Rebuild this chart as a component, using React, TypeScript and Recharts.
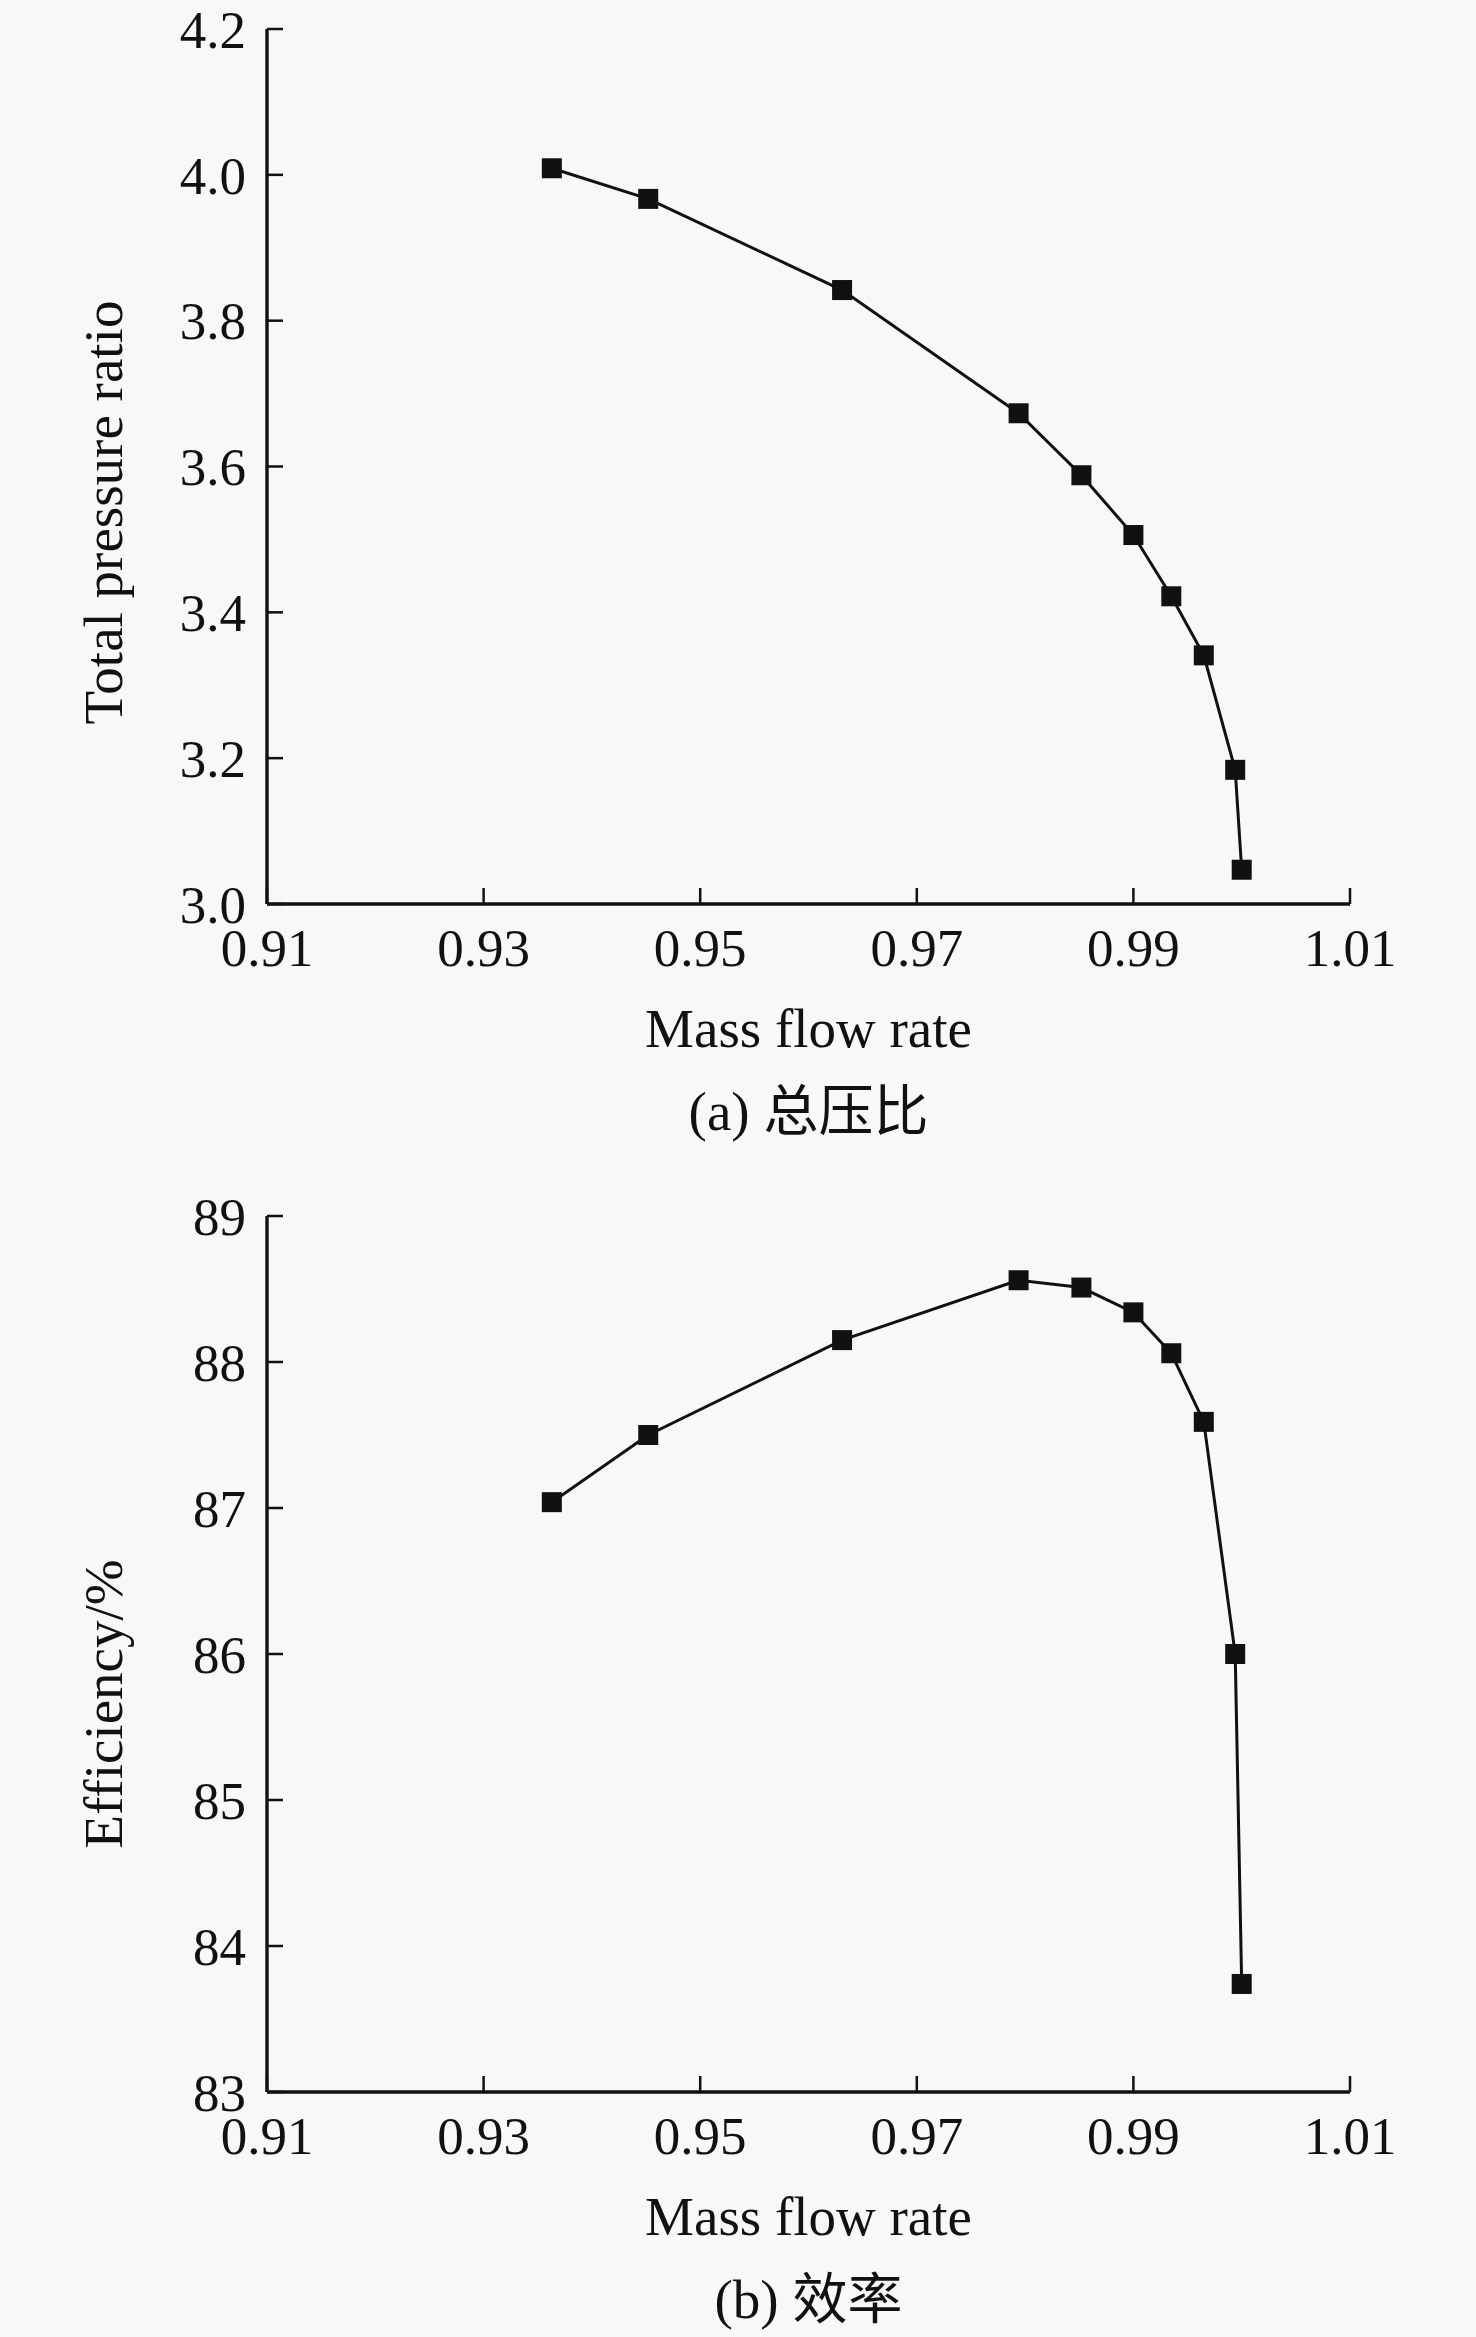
import { LineChart, Line, XAxis, YAxis } from 'recharts';

// values (shared mass flow axis)
const massFlow = [0.9363, 0.9452, 0.9631, 0.9794, 0.9852, 0.99, 0.9935, 0.9965, 0.9994, 1.0];
const pressureRatio = [4.009, 3.967, 3.842, 3.673, 3.588, 3.506, 3.422, 3.341, 3.184, 3.047];
const efficiency = [87.04, 87.5, 88.15, 88.56, 88.51, 88.34, 88.06, 87.59, 86.0, 83.74];

const flowTicks = [0.91, 0.93, 0.95, 0.97, 0.99, 1.01];
const ratioTicks = [3.0, 3.2, 3.4, 3.6, 3.8, 4.0, 4.2];
const effTicks = [83, 84, 85, 86, 87, 88, 89];

const serif = '"Liberation Serif", "Times New Roman", "Noto Sans CJK SC", serif';
const ink = '#111';

type PanelProps = {
  yKey: string;
  yValues: number[];
  yTicks: number[];
  yFormat: (v: number) => string;
  yTitle: string;
  caption: string;
  height: number;
  top: number;
  plotBottom: number;
  titleShift: number;
};

const SquareDot = (p: any) => (
  <rect key={`dot-${p.index}`} x={p.cx - 10} y={p.cy - 10} width={20} height={20} fill={ink} />
);

function Panel({ yKey, yValues, yTicks, yFormat, yTitle, caption, height, top, plotBottom, titleShift }: PanelProps) {
  const data = massFlow.map((flow, i) => ({ flow, [yKey]: yValues[i] }));
  const xAxisHeight = 60;
  return (
    <LineChart
      width={1476}
      height={height}
      data={data}
      margin={{ top, right: 126, left: 0, bottom: height - plotBottom - xAxisHeight }}
    >
      <XAxis
        type="number"
        dataKey="flow"
        domain={[0.91, 1.01]}
        ticks={flowTicks}
        interval={0}
        height={xAxisHeight}
        tickFormatter={(v: number) => v.toFixed(2)}
        tickSize={-16}
        tickMargin={40}
        axisLine={{ stroke: ink, strokeWidth: 3.4 }}
        tickLine={{ stroke: ink, strokeWidth: 2.5 }}
        tick={{ fill: ink, fontSize: 53, fontFamily: serif }}
        label={(p: any) => {
          const vb = p.viewBox;
          const cx = vb.x + vb.width / 2;
          return (
            <g>
              <text x={cx} y={vb.y + 143} textAnchor="middle" fill={ink} fontSize={55} fontFamily={serif}>
                Mass flow rate
              </text>
              <text x={cx} y={vb.y + 226} textAnchor="middle" fill={ink} fontSize={55} fontFamily={serif}>
                {caption}
              </text>
            </g>
          );
        }}
      />
      <YAxis
        type="number"
        dataKey={yKey}
        domain={[yTicks[0], yTicks[yTicks.length - 1]]}
        ticks={yTicks}
        interval={0}
        width={267}
        tickFormatter={yFormat}
        tickSize={-16}
        tickMargin={37}
        axisLine={{ stroke: ink, strokeWidth: 3.4 }}
        tickLine={{ stroke: ink, strokeWidth: 2.5 }}
        tick={{ fill: ink, fontSize: 53, fontFamily: serif }}
        label={(p: any) => {
          const vb = p.viewBox;
          const cy = vb.y + vb.height / 2 + titleShift;
          return (
            <text
              x={122}
              y={cy}
              transform={`rotate(-90, 122, ${cy})`}
              textAnchor="middle"
              fill={ink}
              fontSize={55}
              fontFamily={serif}
            >
              {yTitle}
            </text>
          );
        }}
      />
      <Line
        type="linear"
        dataKey={yKey}
        stroke={ink}
        strokeWidth={3}
        dot={SquareDot}
        activeDot={false}
        isAnimationActive={false}
      />
    </LineChart>
  );
}

export default function App() {
  return (
    <div style={{ position: 'absolute', left: 0, top: 0, width: 1476, height: 2337, background: '#f8f8f8' }}>
      <Panel
        yKey="ratio"
        yValues={pressureRatio}
        yTicks={ratioTicks}
        yFormat={(v) => v.toFixed(1)}
        yTitle="Total pressure ratio"
        caption="(a) 总压比"
        height={1150}
        top={29}
        plotBottom={904}
        titleShift={46}
      />
      <Panel
        yKey="eff"
        yValues={efficiency}
        yTicks={effTicks}
        yFormat={(v) => String(v)}
        yTitle="Efficiency/%"
        caption="(b) 效率"
        height={1187}
        top={66}
        plotBottom={942}
        titleShift={50}
      />
    </div>
  );
}
